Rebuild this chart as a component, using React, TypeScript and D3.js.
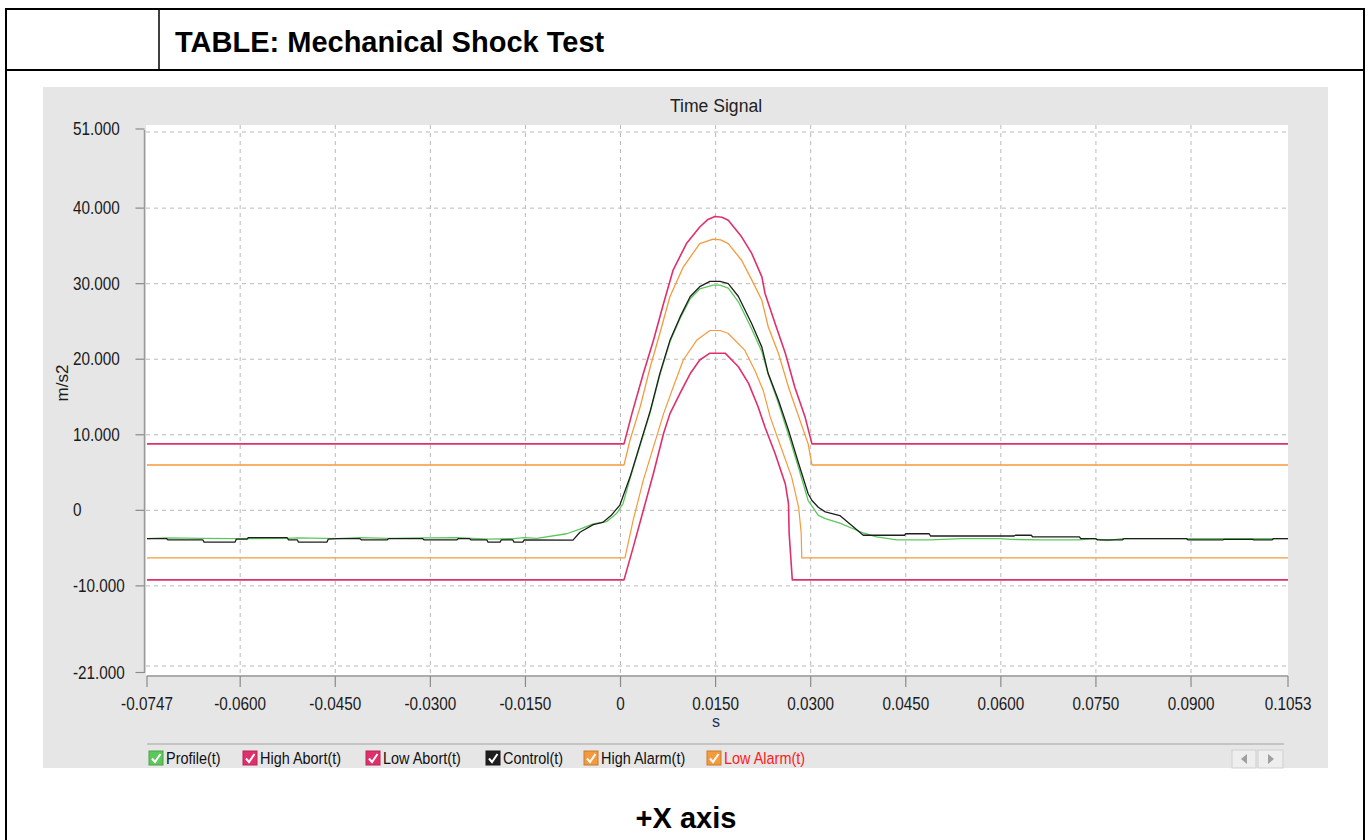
import React from "react";
import * as d3 from "d3";

// ---------- data ----------
const xTicks = [-0.0747, -0.06, -0.045, -0.03, -0.015, 0, 0.015, 0.03, 0.045, 0.06, 0.075, 0.09, 0.1053];
const xTickLabels = ["-0.0747", "-0.0600", "-0.0450", "-0.0300", "-0.0150", "0", "0.0150", "0.0300", "0.0450", "0.0600", "0.0750", "0.0900", "0.1053"];
const yTicks = [51, 40, 30, 20, 10, 0, -10, -21];
const yTickLabels = ["51.000", "40.000", "30.000", "20.000", "10.000", "0", "-10.000", "-21.000"];

const highAbortTime = [-0.0747, 0.00055, 0.0018, 0.0036, 0.0052, 0.0068, 0.0083, 0.0104, 0.0125, 0.0138, 0.0149, 0.0160, 0.0170, 0.0191, 0.0207, 0.0223, 0.0228, 0.0244, 0.0260, 0.0275, 0.0291, 0.0302, 0.1053];
const highAbortValues = [8.8, 8.8, 12.8, 18.1, 22.5, 27.4, 31.8, 35.3, 37.5, 38.5, 38.9, 38.8, 38.4, 36.2, 34.0, 30.9, 28.7, 24.7, 20.8, 16.3, 12.4, 8.8, 8.8];

const highAlarmTime = [-0.0747, 0.00055, 0.0015, 0.0031, 0.0047, 0.0062, 0.0078, 0.0099, 0.0125, 0.0146, 0.0158, 0.0170, 0.0191, 0.0207, 0.0223, 0.0233, 0.0249, 0.0265, 0.0281, 0.0296, 0.0302, 0.1053];
const highAlarmValues = [6.0, 6.0, 9.3, 13.7, 19.0, 23.4, 28.3, 32.2, 35.3, 35.9, 35.8, 35.3, 33.1, 30.5, 27.8, 24.3, 20.8, 16.3, 12.4, 8.8, 6.0, 6.0];

const lowAlarmTime = [-0.0747, 0.0007, 0.0020, 0.0036, 0.0052, 0.0068, 0.0083, 0.0099, 0.0120, 0.0141, 0.0157, 0.0170, 0.0196, 0.0212, 0.0225, 0.0236, 0.0249, 0.0270, 0.0281, 0.0285, 0.0286, 0.1053];
const lowAlarmValues = [-6.3, -6.3, -1.3, 4.0, 8.4, 12.8, 16.3, 19.9, 22.5, 23.8, 23.8, 23.4, 21.2, 18.5, 15.9, 12.4, 9.3, 4.4, 0.4, -3.0, -6.3, -6.3];

const lowAbortTime = [-0.0747, 0.00055, 0.0020, 0.0036, 0.0052, 0.0068, 0.0078, 0.0094, 0.0110, 0.0125, 0.0141, 0.0165, 0.0186, 0.0202, 0.0217, 0.0228, 0.0244, 0.0260, 0.0265, 0.0266, 0.0271, 0.1053];
const lowAbortValues = [-9.2, -9.2, -4.9, 0.0, 4.9, 10.2, 12.8, 15.5, 18.1, 19.9, 20.8, 20.8, 19.0, 16.8, 13.7, 11.0, 7.5, 3.5, 0.9, -3.0, -9.2, -9.2];

const profileTime = [-0.0747, -0.0716, -0.0660, -0.0606, -0.0526, -0.0508, -0.0447, -0.0411, -0.0366, -0.0310, -0.0258, -0.0209, -0.0168, -0.0152, -0.0132, -0.0085, -0.0064, -0.0043, -0.0022, -0.0006, 0.0004, 0.0015, 0.0031, 0.0047, 0.0062, 0.0078, 0.0094, 0.0110, 0.0125, 0.0146, 0.0157, 0.0170, 0.0186, 0.0207, 0.0223, 0.0233, 0.0249, 0.0265, 0.0281, 0.0296, 0.0312, 0.0323, 0.0346, 0.0383, 0.0404, 0.0436, 0.0488, 0.0538, 0.0599, 0.0615, 0.0663, 0.0724, 0.0745, 0.0767, 0.0792, 0.0893, 0.0950, 0.1053];
const profileValues = [-3.75, -3.65, -3.7, -3.75, -3.7, -3.65, -3.75, -3.6, -3.7, -3.65, -3.6, -3.8, -3.75, -3.6, -3.7, -3.1, -2.5, -1.8, -1.5, -0.4, 0.9, 4.2, 8.6, 13.0, 17.9, 22.3, 25.4, 28.0, 29.3, 29.8, 29.8, 29.4, 27.6, 24.0, 21.0, 18.0, 14.2, 10.0, 5.6, 1.3, -0.66, -1.1, -1.7, -3.0, -3.5, -3.9, -3.9, -3.75, -3.75, -3.85, -3.9, -3.9, -3.75, -4.0, -3.75, -3.75, -3.75, -3.75];

const controlTime = [-0.0747, -0.0716, -0.0714, -0.0659, -0.0657, -0.0608, -0.0606, -0.0589, -0.0587, -0.0526, -0.0524, -0.0510, -0.0508, -0.0463, -0.0461, -0.0447, -0.0411, -0.0409, -0.0368, -0.0366, -0.0312, -0.0310, -0.0258, -0.0256, -0.0238, -0.0236, -0.0211, -0.0209, -0.0190, -0.0188, -0.0170, -0.0168, -0.0154, -0.0152, -0.0075, -0.0064, -0.0043, -0.0028, -0.0015, -0.0001, 0.0015, 0.0031, 0.0047, 0.0062, 0.0078, 0.0094, 0.0110, 0.0125, 0.0141, 0.0157, 0.0170, 0.0186, 0.0207, 0.0223, 0.0233, 0.0249, 0.0265, 0.0281, 0.0296, 0.0302, 0.0312, 0.0323, 0.0346, 0.0383, 0.0448, 0.0450, 0.0487, 0.0489, 0.0621, 0.0623, 0.0648, 0.0650, 0.0724, 0.0726, 0.0750, 0.0752, 0.0792, 0.0794, 0.0893, 0.0895, 0.0950, 0.0952, 0.0997, 0.0999, 0.1028, 0.1030, 0.1053];
const controlValues = [-3.75, -3.75, -3.9, -3.9, -4.2, -4.2, -3.8, -3.8, -3.6, -3.6, -3.9, -3.9, -4.2, -4.2, -3.8, -3.75, -3.75, -3.9, -3.9, -3.75, -3.75, -3.9, -3.9, -3.75, -3.75, -3.9, -3.9, -4.2, -4.2, -3.9, -3.9, -4.2, -4.2, -3.9, -3.95, -2.9, -1.9, -1.6, -0.7, 0.7, 4.4, 8.8, 13.2, 18.1, 22.5, 25.6, 28.3, 29.6, 30.3, 30.3, 30.0, 28.3, 24.7, 21.6, 18.1, 14.6, 10.6, 6.2, 2.2, 1.3, 0.4, -0.2, -0.7, -3.3, -3.3, -3.1, -3.1, -3.4, -3.4, -3.3, -3.3, -3.5, -3.5, -3.75, -3.75, -3.9, -3.9, -3.75, -3.75, -3.9, -3.9, -3.85, -3.85, -3.9, -3.9, -3.75, -3.75];

const legendNames = ["Profile(t)", "High Abort(t)", "Low Abort(t)", "Control(t)", "High Alarm(t)", "Low Alarm(t)"];

// ---------- styles ----------
const COL_PROFILE = "#5cc85c";
const COL_ABORT = "#e0306c";
const COL_ALARM = "#f59a3c";
const COL_CONTROL = "#1e1e1e";
const FONT = "'Liberation Sans', Arial, sans-serif";

const zip = (t: number[], v: number[]) => t.map((d, i) => [d, v[i]] as [number, number]);

export default function App() {
  const W = 1368;
  const H = 840;
  const x = d3.scaleLinear().domain([-0.0747, 0.1053]).range([147, 1288]);
  const y = d3.scaleLinear().domain([-21, 51]).range([669, 125]);
  const line = d3
    .line<[number, number]>()
    .x((d) => x(d[0]))
    .y((d) => y(d[1]));

  const series = [
    { data: zip(highAlarmTime, highAlarmValues), color: COL_ALARM, w: 1.3 },
    { data: zip(lowAlarmTime, lowAlarmValues), color: COL_ALARM, w: 1.2 },
    { data: zip(highAbortTime, highAbortValues), color: COL_ABORT, w: 1.6 },
    { data: zip(lowAbortTime, lowAbortValues), color: COL_ABORT, w: 1.6 },
    { data: zip(profileTime, profileValues), color: COL_PROFILE, w: 1.3 },
    { data: zip(controlTime, controlValues), color: COL_CONTROL, w: 1.3 },
  ];

  const legendColors = [COL_PROFILE, COL_ABORT, COL_ABORT, COL_CONTROL, COL_ALARM, COL_ALARM];
  const legendX = [149, 243, 366, 486, 584, 707];
  const legendTextColor = ["#111", "#111", "#111", "#111", "#111", "#ff1a1a"];

  const plotLeft = 146;
  const plotRight = 1288;
  const plotTop = 125;
  const axisY = 676;
  const yAxisX = 144.5;
  // end ticks of the y axis sit slightly inside the plot
  const endShift = (i: number) => (i === 0 ? 4 : i === yTicks.length - 1 ? 3.5 : 0);

  return (
    <>
      <style>{`body{margin:0;}`}</style>
      <svg width={W} height={H} style={{ display: "block" }} fontFamily={FONT}>
        <rect x={0} y={0} width={W} height={H} fill="#ffffff" />

        {/* outer table frame */}
        <line x1={6} y1={9} x2={1364} y2={9} stroke="#000" strokeWidth={2} />
        <line x1={6} y1={8} x2={6} y2={H} stroke="#000" strokeWidth={2} />
        <line x1={1364} y1={8} x2={1364} y2={H} stroke="#000" strokeWidth={2} />
        <line x1={6} y1={70} x2={1364} y2={70} stroke="#000" strokeWidth={2} />
        <line x1={159} y1={9} x2={159} y2={70} stroke="#000" strokeWidth={1.5} />
        <text x={175} y={52} fontSize={29} fontWeight="bold" fill="#000">
          TABLE: Mechanical Shock Test
        </text>

        {/* chart panel */}
        <rect x={43} y={87} width={1285} height={681} fill="#e6e6e6" />
        <rect x={plotLeft} y={plotTop} width={plotRight - plotLeft} height={axisY - 1 - plotTop} fill="#ffffff" />

        <text x={716} y={112} fontSize={17.6} textAnchor="middle" fill="#222">
          Time Signal
        </text>

        {/* grid */}
        {xTicks.slice(1, -1).map((t, i) => (
          <line key={"gx" + i} x1={x(t)} x2={x(t)} y1={plotTop} y2={axisY} stroke="#b9b9b9" strokeDasharray="4,4" />
        ))}
        {yTicks.map((v, i) => {
          const inset = i === 0 ? 7 : i === yTicks.length - 1 ? -3 : 0;
          return (
            <line key={"gy" + i} x1={plotLeft} x2={plotRight} y1={y(v) + inset} y2={y(v) + inset} stroke="#b9b9b9" strokeDasharray="4,4" />
          );
        })}

        {/* series */}
        {series.map((s, i) => (
          <path key={"s" + i} d={line(s.data) || ""} fill="none" stroke={s.color} strokeWidth={s.w} strokeLinejoin="round" />
        ))}

        {/* y axis */}
        <line x1={yAxisX} x2={yAxisX} y1={y(51) + 5} y2={y(-21) + 4} stroke="#9a9a9a" strokeWidth={1.5} />
        {yTicks.map((v, i) => (
          <g key={"yt" + i}>
            <line x1={yAxisX - 9} x2={yAxisX} y1={y(v) + endShift(i)} y2={y(v) + endShift(i)} stroke="#8a8a8a" strokeWidth={1.2} />
            <text transform={`translate(73,${y(v) + endShift(i) + 6}) scale(0.85,1)`} fontSize={18} fill="#1a1a1a">
              {yTickLabels[i]}
            </text>
          </g>
        ))}
        <text transform={`translate(68,383) rotate(-90)`} fontSize={17} textAnchor="middle" fill="#1a1a1a">
          m/s2
        </text>

        {/* x axis */}
        <line x1={x(xTicks[0])} x2={x(xTicks[xTicks.length - 1])} y1={axisY} y2={axisY} stroke="#9a9a9a" strokeWidth={1.5} />
        {xTicks.map((t, i) => (
          <g key={"xt" + i}>
            <line x1={x(t)} x2={x(t)} y1={axisY} y2={axisY + 11} stroke="#8a8a8a" strokeWidth={1.2} />
            <text transform={`translate(${x(t)},710) scale(0.85,1)`} fontSize={18} textAnchor="middle" fill="#1a1a1a">
              {xTickLabels[i]}
            </text>
          </g>
        ))}
        <text x={716} y={727} fontSize={16} textAnchor="middle" fill="#22305a">
          s
        </text>

        {/* legend */}
        <line x1={147} x2={1284} y1={744} y2={744} stroke="#c4c4c4" strokeWidth={2} />
        {legendNames.map((name, i) => {
          const lx = legendX[i];
          const ly = 751;
          return (
            <g key={"lg" + i}>
              <rect x={lx} y={ly} width={14} height={14} fill={legendColors[i]} stroke={d3.color(legendColors[i])!.darker(0.6).toString()} strokeWidth={1} />
              <path d={`M${lx + 3},${ly + 7.5} L${lx + 6},${ly + 11} L${lx + 11.5},${ly + 3}`} fill="none" stroke="#fff" strokeWidth={2} />
              <text transform={`translate(${lx + 17},${ly + 13}) scale(0.85,1)`} fontSize={17} fill={legendTextColor[i]}>
                {name}
              </text>
            </g>
          );
        })}
        {/* scroll buttons */}
        <rect x={1232} y={750} width={24} height={18} fill="#eeeeee" stroke="#cfcfcf" />
        <rect x={1258} y={750} width={25} height={18} fill="#eeeeee" stroke="#cfcfcf" />
        <path d="M1247,754 L1241,759 L1247,764 Z" fill="#a0a0a0" />
        <path d="M1268,754 L1274,759 L1268,764 Z" fill="#a0a0a0" />

        <text x={686} y={828} fontSize={29} fontWeight="bold" textAnchor="middle" fill="#000">
          +X axis
        </text>
      </svg>
    </>
  );
}
